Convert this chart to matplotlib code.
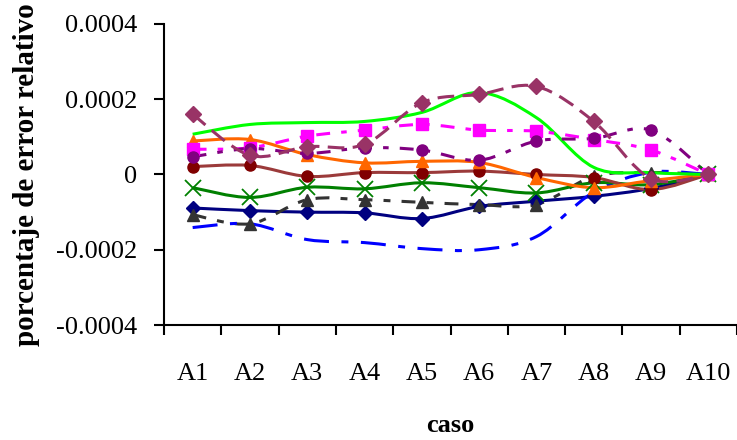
import numpy as np
import matplotlib
matplotlib.use("Agg")
import matplotlib.pyplot as plt
from matplotlib.path import Path
from matplotlib.patches import PathPatch

plt.rcParams["font.family"] = ["Liberation Serif", "DejaVu Serif"]
plt.rcParams["lines.scale_dashes"] = False

# ─── Data ─────────────────────────────────────────────────────────────────────
cases = ["A1", "A2", "A3", "A4", "A5", "A6", "A7", "A8", "A9", "A10"]
y_ticks = [-0.0004, -0.0002, 0.0, 0.0002, 0.0004]
y_tick_labels = ["-0.0004", "-0.0002", "0", "0.0002", "0.0004"]

s_navy    = [-8.9e-5, -9.6e-5, -1.00e-4, -1.02e-4, -1.17e-4, -8.5e-5, -7.1e-5, -5.8e-5, -3.7e-5, 0.0]
s_gray    = [-1.07e-4, -1.31e-4, -6.7e-5, -6.7e-5, -7.4e-5, -8.0e-5, -8.0e-5, -5e-6, 5e-6, 0.0]
s_blue    = [-1.41e-4, -1.31e-4, -1.73e-4, -1.81e-4, -1.97e-4, -2.00e-4, -1.65e-4, -4.7e-5, 6e-6, 0.0]
s_green   = [-3.5e-5, -6.1e-5, -3.4e-5, -3.8e-5, -2.2e-5, -3.5e-5, -4.9e-5, -2.2e-5, -2.7e-5, 0.0]
s_darkred = [2.1e-5, 2.4e-5, -5e-6, 5e-6, 5e-6, 9e-6, 0.0, -8e-6, -4.0e-5, 0.0]
s_orange  = [8.9e-5, 9.3e-5, 5.3e-5, 3.1e-5, 3.5e-5, 3.2e-5, -8e-6, -3.5e-5, -1.6e-5, 0.0]
s_lime    = [1.07e-4, 1.33e-4, 1.38e-4, 1.41e-4, 1.65e-4, 2.18e-4, 1.51e-4, 1.9e-5, 5e-6, 0.0]
s_magenta = [6.7e-5, 7.1e-5, 1.02e-4, 1.18e-4, 1.33e-4, 1.18e-4, 1.15e-4, 9.3e-5, 6.5e-5, 0.0]
s_purple  = [4.7e-5, 6.9e-5, 5.6e-5, 7.1e-5, 6.5e-5, 3.8e-5, 8.9e-5, 9.6e-5, 1.18e-4, 0.0]
s_rose    = [1.60e-4, 5.1e-5, 7.4e-5, 8.0e-5, 1.91e-4, 2.13e-4, 2.34e-4, 1.41e-4, -1.1e-5, 0.0]

# (values, line colour, linestyle, marker, marker face, marker size)
SERIES = [
    (s_navy,    "#000080", "-",                     "D", "#000080", 7.5),
    (s_gray,    "#333333", (0, (10, 8, 5, 8)),      "^", "#333333", 8),
    (s_blue,    "#0000FF", (0, (18, 9, 5, 9)),      None, None, 0),
    (s_green,   "#008000", "-",                     "x", "#008000", 11),
    (s_darkred, "#9B3A3A", "-",                     "o", "#800000", 8),
    (s_orange,  "#FF6600", "-",                     "^", "#FF6600", 8),
    (s_lime,    "#00FF00", "-",                     None, None, 0),
    (s_magenta, "#FF00FF", (0, (10, 8, 4, 8)),      "s", "#FF00FF", 8),
    (s_purple,  "#800080", (0, (10, 8, 4, 8)),      "o", "#800080", 8),
    (s_rose,    "#993366", (0, (12, 6)),            "D", "#993366", 8.5),
]


def smooth_path(xs, ys):
    """Excel-style smoothed line: cubic Bezier through every point."""
    pts = np.column_stack([xs, ys])
    n = len(pts)
    verts = [pts[0]]
    codes = [Path.MOVETO]
    for i in range(n - 1):
        p0 = pts[i - 1] if i > 0 else pts[i]
        p1 = pts[i]
        p2 = pts[i + 1]
        p3 = pts[i + 2] if i + 2 < n else pts[i + 1]
        c1 = p1 + (p2 - p0) / 6.0
        c2 = p2 - (p3 - p1) / 6.0
        verts += [c1, c2, p2]
        codes += [Path.CURVE4] * 3
    return Path(verts, codes)


# ─── Plot ─────────────────────────────────────────────────────────────────────
fig = plt.figure(figsize=(7.37, 4.4), dpi=100)
ax = fig.add_axes([164 / 737, 1 - 325 / 440, 573 / 737, 301 / 440])

xpos = np.arange(len(cases)) + 0.5
for vals, col, ls, mk, mfc, ms in SERIES:
    patch = PathPatch(smooth_path(xpos, np.array(vals)), fill=False,
                      edgecolor=col, linewidth=2.2, linestyle=ls,
                      capstyle="butt", joinstyle="round")
    ax.add_patch(patch)
    if mk is not None:
        if mk == "x":
            ax.plot(xpos, vals, linestyle="none", marker=mk, color=mfc,
                    markersize=ms, markeredgewidth=1.3)
        else:
            ax.plot(xpos, vals, linestyle="none", marker=mk,
                    markerfacecolor=mfc, markeredgecolor=mfc, markersize=ms)

ax.set_xlim(0, len(cases))
ax.set_ylim(-0.0004, 0.0004)

ax.set_xticks(np.arange(len(cases) + 1))
ax.set_xticklabels([])
ax.set_xticks(xpos, minor=True)
ax.set_xticklabels(cases, minor=True, fontsize=19)
ax.tick_params(axis="x", which="major", direction="out", length=7, width=1.5)
ax.tick_params(axis="x", which="minor", length=0, pad=27)

ax.set_yticks(y_ticks)
ax.set_yticklabels(y_tick_labels, fontsize=19)
ax.tick_params(axis="y", direction="out", length=7, width=1.5, pad=12)

for side in ("top", "right"):
    ax.spines[side].set_visible(False)
for side in ("left", "bottom"):
    ax.spines[side].set_linewidth(1.5)

ax.set_xlabel("caso", fontsize=19, fontweight="bold", labelpad=21)
ax.set_ylabel("porcentaje de error relativo", fontsize=21, fontweight="bold",
              labelpad=12)

fig.savefig("out.png", dpi=100)
